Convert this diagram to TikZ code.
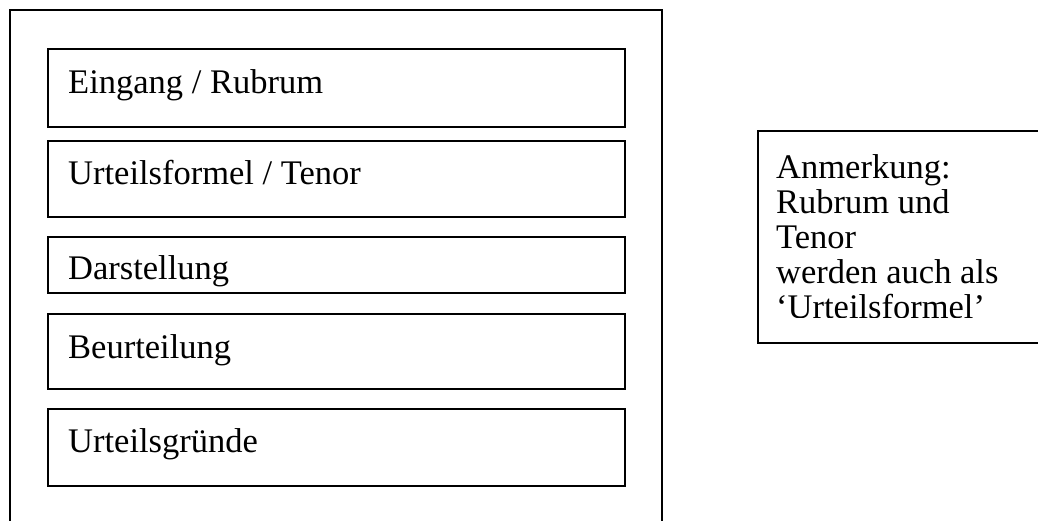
\documentclass[tikz,border=0pt]{standalone}
\usepackage{fontspec}
\setmainfont{Liberation Serif}
\begin{document}
\begin{tikzpicture}[x=1pt,y=-1pt,
  frame/.style={draw=black,line width=1.6pt},
  box/.style={draw=black,line width=1.6pt,minimum width=577pt,anchor=north west,inner sep=0pt},
  txt/.style={anchor=base west,inner sep=0pt,font=\fontsize{34.5}{34.5}\selectfont}]
\useasboundingbox (0,0) rectangle (1038,520);
\begin{scope}
\clip (0,0) rectangle (1038,520);
% outer frame (open at bottom, runs off the picture)
\coordinate (o1) at (10,530);
\coordinate (o2) at (10,10);
\coordinate (o3) at (662,10);
\coordinate (o4) at (662,530);
\draw[frame] (o1) -- (o2) -- (o3) -- (o4);
% note frame (open at right)
\coordinate (n1) at (1045,131);
\coordinate (n2) at (758,131);
\coordinate (n3) at (758,343);
\coordinate (n4) at (1045,343);
\draw[frame] (n1) -- (n2) -- (n3) -- (n4);
\end{scope}
\node[box,minimum height=78pt] (b1) at (47,48) {};
\node[box,minimum height=76pt] (b2) at (47,140) {};
\node[box,minimum height=56pt] (b3) at (47,236) {};
\node[box,minimum height=75pt] (b4) at (47,313) {};
\node[box,minimum height=77pt] (b5) at (47,408) {};
\node[txt] (t1) at (68,93) {Eingang / Rubrum};
\node[txt] (t2) at (68,184) {Urteilsformel / Tenor};
\begin{scope}
\clip (47,236) rectangle (624,286);
\node[txt] (t3) at (68,279) {Darstellung};
\end{scope}
\node[txt] (t4) at (68,358) {Beurteilung};
\node[txt] (t5) at (68,452) {Urteilsgründe};
\node[txt] (a1) at (776,178) {Anmerkung:};
\node[txt] (a2) at (776,213) {Rubrum und};
\node[txt] (a3) at (776,248) {Tenor};
\node[txt] (a4) at (776,283) {werden auch als};
\begin{scope}
\clip (758,290) rectangle (1038,317);
\node[txt] (a5) at (776,318) {‘Urteilsformel’};
\end{scope}
\end{tikzpicture}
\end{document}
